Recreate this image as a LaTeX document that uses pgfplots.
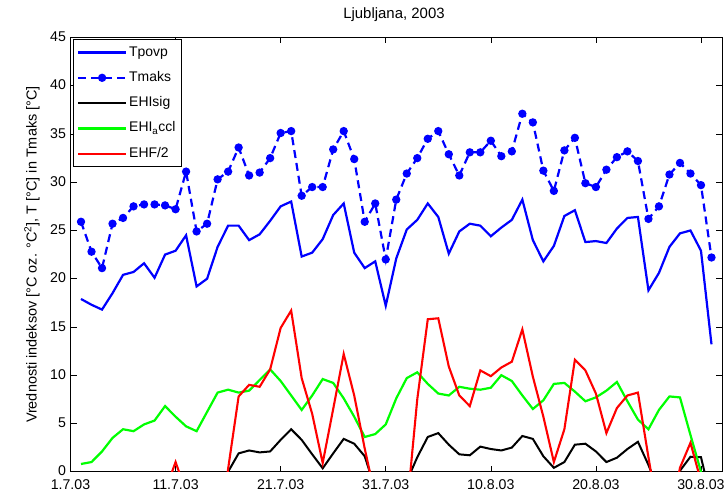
\documentclass[border=0pt]{standalone}
\usepackage{fontspec}
\setmainfont{Liberation Sans}
\usepackage{pgfplots}
\usepackage{pgfplotstable}
\pgfplotsset{compat=1.18}

\pgfplotstableread{
d tp tm es ea ef
1 17.9 25.9 -3 0.8 -3
2 17.3 22.8 -3 1.0 -3
3 16.8 21.1 -3 2.1 -3
4 18.5 25.7 -3 3.5 -3
5 20.4 26.3 -3 4.4 -3
6 20.7 27.5 -3 4.2 -3
7 21.6 27.7 -3 4.9 -3
8 20.1 27.7 -3 5.3 -3
9 22.5 27.6 -3 6.8 -2
10 22.9 27.2 -3 5.7 1.0
11 24.5 31.1 -3 4.7 -2.1
12 19.2 24.9 -3 4.2 -5
13 20.0 25.7 -3 6.2 -5
14 23.3 30.3 -2 8.2 -8
15 25.5 31.1 0.0 8.5 0.3
16 25.5 33.6 1.9 8.2 7.8
17 24.0 30.7 2.2 8.4 9.0
18 24.6 31.0 2.0 9.5 8.8
19 26.0 32.5 2.1 10.6 10.6
20 27.5 35.1 3.3 9.4 14.9
21 28.0 35.3 4.4 7.9 16.7
22 22.3 28.6 3.3 6.4 9.7
23 22.7 29.5 1.8 7.9 6.0
24 24.1 29.5 0.35 9.6 0.9
25 26.6 33.4 1.9 9.2 6.5
26 27.8 35.3 3.4 7.6 12.2
27 22.7 32.4 2.9 5.7 7.9
28 21.1 25.9 1.6 3.6 2.4
29 21.8 27.8 -1.8 3.9 -2.6
30 17.2 22.0 -3 4.9 -6
31 22.1 28.2 -3 7.6 -6
32 25.1 30.9 -1.0 9.7 -4
33 26.1 32.5 1.5 10.3 7.5
34 27.8 34.5 3.6 9.1 15.8
35 26.4 35.3 4.0 8.1 15.9
36 22.6 32.9 2.8 7.9 10.9
37 24.9 30.7 1.8 8.8 7.9
38 25.7 33.1 1.7 8.6 6.8
39 25.5 33.1 2.6 8.5 10.5
40 24.4 34.3 2.35 8.7 9.9
41 25.3 32.7 2.2 10.0 10.8
42 26.1 33.2 2.5 9.4 11.4
43 28.2 37.1 3.7 7.9 14.75
44 24.0 36.2 3.4 6.5 9.85
45 21.8 31.2 1.6 7.4 5.7
46 23.4 29.1 0.4 9.1 1.0
47 26.5 33.3 1.0 9.2 4.4
48 27.1 34.6 2.8 8.3 11.6
49 23.8 29.9 2.9 7.3 10.5
50 23.9 29.5 2.1 7.7 8.1
51 23.7 31.3 1.0 8.4 4.0
52 25.2 32.6 1.45 9.3 6.6
53 26.3 33.2 2.35 7.3 7.9
54 26.4 32.2 3.1 5.4 8.2
55 18.8 26.2 0.7 4.4 1.5
56 20.6 27.5 -2 6.4 -5
57 23.3 30.8 -2 7.8 -5
58 24.7 32.0 0.1 7.7 0.4
59 25.0 30.9 1.55 3.8 3.0
60 22.9 29.7 1.5 0.0 -1
61 13.2 22.2 -3 -3 -3
}\datatable

\begin{document}
\begin{tikzpicture}
\useasboundingbox (-70.5bp,-20.3bp) rectangle (657.5bp,471.7bp);
\begin{axis}[
  scale only axis, width=651.5bp, height=434.2bp,
  xmin=0, xmax=62, ymin=0, ymax=45,
  xtick={0,10,...,60},
  xticklabels={1.7.03,11.7.03,21.7.03,31.7.03,10.8.03,20.8.03,30.8.03},
  ytick={0,5,...,45},
  tick align=inside, major tick length=6bp,
  tick style={black, line width=0.5bp},
  axis line style={line width=0.6bp},
  ticklabel style={font=\fontsize{14.2}{16}\selectfont},
  xticklabel style={text height=10.2bp, text depth=0pt, inner ysep=0pt, yshift=-7.6bp},
  yticklabel style={text height=10.2bp, text depth=0pt, inner ysep=0pt, xshift=-1bp, yshift=1bp},
  /pgf/number format/assume math mode=true,
  title={Ljubljana, 2003},
  title style={font=\fontsize{15}{17}\selectfont, at={(axis description cs:0.4965,1.039)}, anchor=center},
  ylabel={Vrednosti indeksov [°C oz. °C\textsuperscript{2}], T [°C] in Tmaks [°C]},
  ylabel style={font=\fontsize{14.5}{16}\selectfont, at={(axis description cs:-0.059,0.5)}, anchor=center},
  legend image code/.code={\draw[mark repeat=2,mark phase=2,#1] plot coordinates {(0bp,0bp) (24bp,0bp) (48bp,0bp)};},
  legend style={at={(axis description cs:0.0034,0.9958)}, anchor=north west,
    font=\fontsize{14}{16}\selectfont, draw=black, line width=0.6bp,
    row sep=8.3bp, inner xsep=4bp, inner ysep=4.4bp},
  legend cell align=left,
  legend style={nodes={text height=10bp, text depth=3bp, inner ysep=2bp}},
]
\addplot[blue, line width=2.2bp] table[x=d,y=tp]{\datatable};
\addlegendentry{Tpovp}
\addplot[blue, line width=2.2bp, dash pattern=on 8bp off 5bp, mark=*, mark size=3bp, mark options={solid, fill=blue}] table[x=d,y=tm]{\datatable};
\addlegendentry{Tmaks}
\addplot[black, line width=2bp] table[x=d,y=es]{\datatable};
\addlegendentry{EHIsig}
\addplot[green, line width=2.2bp] table[x=d,y=ea]{\datatable};
\addlegendentry{EHI\textsubscript{a}ccl}
\addplot[red, line width=2.1bp] table[x=d,y=ef]{\datatable};
\addlegendentry{EHF/2}
\end{axis}
\end{tikzpicture}
\end{document}
